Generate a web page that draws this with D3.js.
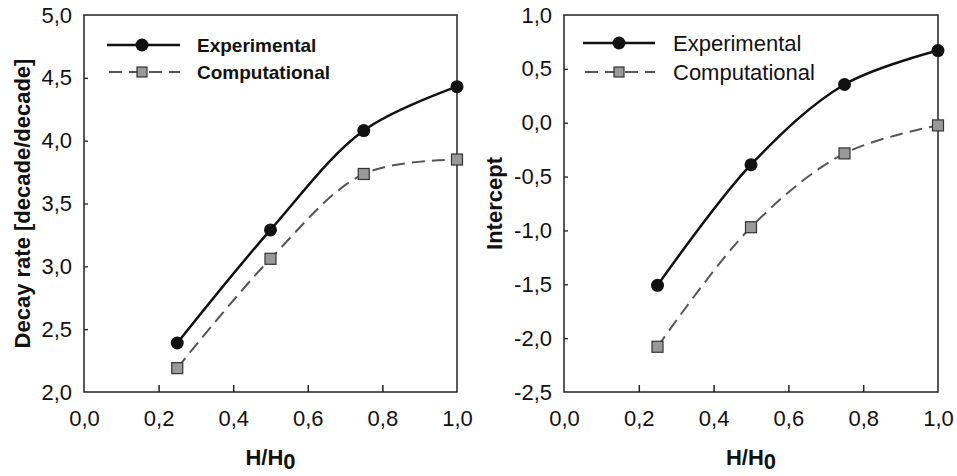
<!DOCTYPE html>
<html>
<head>
<meta charset="utf-8">
<script src="https://cdn.jsdelivr.net/npm/d3@7"></script>
<style>
  html, body { margin: 0; padding: 0; background: #fff; }
  svg { display: block; font-family: "Liberation Sans", Arial, sans-serif; }
</style>
</head>
<body>
<svg id="chart" width="957" height="476"></svg>
<script>
// Podaci
const hRatio = [0.25, 0.5, 0.75, 1.0];
const decayExperimental = [2.39, 3.29, 4.08, 4.43];
const decayComputational = [2.19, 3.06, 3.735, 3.85];
const interceptExperimental = [-1.51, -0.39, 0.355, 0.67];
const interceptComputational = [-2.08, -0.97, -0.285, -0.025];

const xTicks = [0, 0.2, 0.4, 0.6, 0.8, 1.0];
const decayTicks = [2.0, 2.5, 3.0, 3.5, 4.0, 4.5, 5.0];
const interceptTicks = [-2.5, -2.0, -1.5, -1.0, -0.5, 0.0, 0.5, 1.0];
const seriesNames = ["Experimental", "Computational"];

const fmt = v => v.toFixed(1).replace(".", ",");

const svg = d3.select("#chart");

const panels = [
  {
    left: 84, right: 457, top: 15, bottom: 392,
    yDomain: [2.0, 5.0], yTicks: decayTicks,
    exp: decayExperimental, comp: decayComputational,
    yTitle: "Decay rate [decade/decade]", yTitleX: 22,
    legend: { x1: 107, x2: 180, mx: 142, y1: 45, y2: 72, tx: 197, size: 19, weight: "bold" }
  },
  {
    left: 564, right: 938, top: 15, bottom: 392,
    yDomain: [-2.5, 1.0], yTicks: interceptTicks,
    exp: interceptExperimental, comp: interceptComputational,
    yTitle: "Intercept", yTitleX: 494,
    legend: { x1: 583, x2: 655, mx: 619, y1: 43, y2: 72, tx: 673, size: 22, weight: "normal" }
  }
];

panels.forEach(p => {
  const x = d3.scaleLinear().domain([0, 1]).range([p.left, p.right]);
  const y = d3.scaleLinear().domain(p.yDomain).range([p.bottom, p.top]);

  // X os (unutarnje crtice)
  const gx = svg.append("g")
    .attr("transform", `translate(0,${p.bottom})`)
    .call(d3.axisBottom(x).tickValues(xTicks).tickSizeInner(-7).tickSizeOuter(0).tickPadding(18).tickFormat(fmt));
  gx.select(".domain").remove();
  gx.selectAll(".tick line")
    .attr("stroke", "#222").attr("stroke-width", 1.5)
    .filter(d => d === 0 || d === 1).remove();
  gx.selectAll(".tick text")
    .attr("font-size", 22).attr("fill", "#111")
    .attr("font-family", "Liberation Sans, Arial, sans-serif");

  // Y os (kratke unutarnje crtice)
  const gy = svg.append("g")
    .attr("transform", `translate(${p.left},0)`)
    .call(d3.axisLeft(y).tickValues(p.yTicks).tickSizeInner(-4).tickSizeOuter(0).tickPadding(12).tickFormat(fmt));
  gy.select(".domain").remove();
  gy.selectAll(".tick line")
    .attr("stroke", "#222").attr("stroke-width", 1.3)
    .filter(d => d === p.yDomain[0] || d === p.yDomain[1]).remove();
  gy.selectAll(".tick text")
    .attr("font-size", 22).attr("fill", "#111")
    .attr("font-family", "Liberation Sans, Arial, sans-serif");

  // Okvir
  svg.append("rect")
    .attr("x", p.left).attr("y", p.top)
    .attr("width", p.right - p.left).attr("height", p.bottom - p.top)
    .attr("fill", "none").attr("stroke", "#222").attr("stroke-width", 1.5);

  const line = d3.line()
    .x((d, i) => x(hRatio[i]))
    .y(d => y(d))
    .curve(d3.curveCatmullRom.alpha(0.5));

  // Computational
  svg.append("path")
    .datum(p.comp)
    .attr("d", line)
    .attr("fill", "none")
    .attr("stroke", "#555")
    .attr("stroke-width", 2)
    .attr("stroke-dasharray", "13,7");

  svg.selectAll(null)
    .data(p.comp)
    .enter()
    .append("rect")
    .attr("x", (d, i) => x(hRatio[i]) - 5.5)
    .attr("y", d => y(d) - 5.5)
    .attr("width", 11).attr("height", 11)
    .attr("fill", "#999").attr("stroke", "#333").attr("stroke-width", 1.2);

  // Experimental
  svg.append("path")
    .datum(p.exp)
    .attr("d", line)
    .attr("fill", "none")
    .attr("stroke", "#111")
    .attr("stroke-width", 2.5);

  svg.selectAll(null)
    .data(p.exp)
    .enter()
    .append("circle")
    .attr("cx", (d, i) => x(hRatio[i]))
    .attr("cy", d => y(d))
    .attr("r", 6.5)
    .attr("fill", "#111");

  // Legenda
  const L = p.legend;
  svg.append("line")
    .attr("x1", L.x1).attr("x2", L.x2).attr("y1", L.y1).attr("y2", L.y1)
    .attr("stroke", "#111").attr("stroke-width", 2.5);
  svg.append("circle")
    .attr("cx", L.mx).attr("cy", L.y1).attr("r", 6.5).attr("fill", "#111");
  svg.append("line")
    .attr("x1", L.x1).attr("x2", L.x2).attr("y1", L.y2).attr("y2", L.y2)
    .attr("stroke", "#555").attr("stroke-width", 2)
    .attr("stroke-dasharray", "13,7").attr("stroke-dashoffset", -2);
  svg.append("rect")
    .attr("x", L.mx - 5).attr("y", L.y2 - 5).attr("width", 10).attr("height", 10)
    .attr("fill", "#999").attr("stroke", "#333").attr("stroke-width", 1.2);

  [L.y1, L.y2].forEach((ly, i) => {
    svg.append("text")
      .attr("x", L.tx).attr("y", ly)
      .attr("dy", "0.35em")
      .attr("font-size", L.size)
      .attr("font-weight", L.weight)
      .attr("fill", "#111")
      .text(seriesNames[i]);
  });

  // Naslovi osi
  svg.append("text")
    .attr("transform", `translate(${p.yTitleX},${(p.top + p.bottom) / 2}) rotate(-90)`)
    .attr("text-anchor", "middle")
    .attr("dy", "0.35em")
    .attr("font-size", 22)
    .attr("font-weight", "bold")
    .attr("fill", "#111")
    .text(p.yTitle);

  const xt = svg.append("text")
    .attr("x", (p.left + p.right) / 2)
    .attr("y", 465)
    .attr("text-anchor", "middle")
    .attr("font-size", 22)
    .attr("font-weight", "bold")
    .attr("fill", "#111");
  xt.append("tspan").text("H/H");
  xt.append("tspan").attr("dy", 4).text("0");
});
</script>
</body>
</html>
